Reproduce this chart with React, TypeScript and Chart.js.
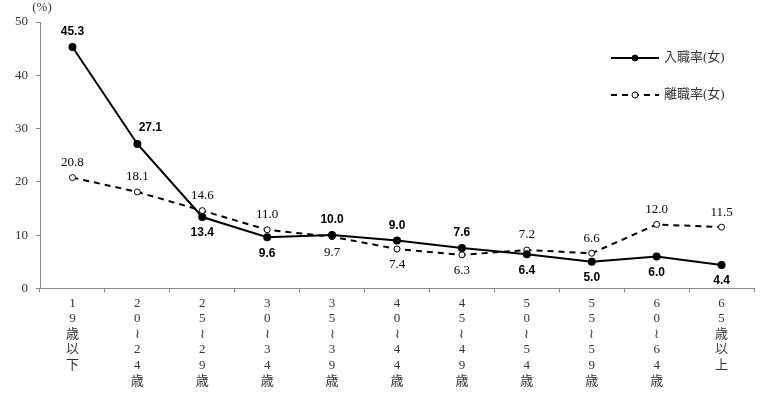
import React, { useEffect, useRef } from "react";
import { Chart, registerables } from "chart.js";

Chart.register(...registerables);

const categories: string[][] = [
  ["1", "9", "歳", "以", "下"],
  ["2", "0", "≀", "2", "4", "歳"],
  ["2", "5", "≀", "2", "9", "歳"],
  ["3", "0", "≀", "3", "4", "歳"],
  ["3", "5", "≀", "3", "9", "歳"],
  ["4", "0", "≀", "4", "4", "歳"],
  ["4", "5", "≀", "4", "9", "歳"],
  ["5", "0", "≀", "5", "4", "歳"],
  ["5", "5", "≀", "5", "9", "歳"],
  ["6", "0", "≀", "6", "4", "歳"],
  ["6", "5", "歳", "以", "上"],
];

const entryRate: number[] = [45.3, 27.1, 13.4, 9.6, 10.0, 9.0, 7.6, 6.4, 5.0, 6.0, 4.4];
const exitRate: number[] = [20.8, 18.1, 14.6, 11.0, 9.7, 7.4, 6.3, 7.2, 6.6, 12.0, 11.5];

const entryLabelSide: string[] = ["a", "r", "b", "b", "a", "a", "a", "b", "b", "b", "b"];
const exitLabelSide: string[] = ["a", "a", "a", "a", "b", "b", "b", "a", "a", "a", "a"];

const seriesNames: string[] = ["入職率(女)", "離職率(女)"];
const yTicks: number[] = [0, 10, 20, 30, 40, 50];
const unitLabel = "(%)";

const SERIF = "'Liberation Serif', 'DejaVu Serif', 'Noto Sans CJK JP', serif";
const LABEL_FONT = "'Liberation Serif', 'Noto Sans CJK JP', serif";

const overlayPlugin = {
  id: "overlay",
  afterDatasetsDraw(chart: any) {
    const ctx = chart.ctx;
    const sides = [entryLabelSide, exitLabelSide];
    chart.data.datasets.forEach((ds: any, di: number) => {
      const meta = chart.getDatasetMeta(di);
      ctx.save();
      ctx.fillStyle = "#000";
      ctx.textAlign = "center";
      ctx.textBaseline = "middle";
      ctx.font = di === 0 ? "bold 12px 'Liberation Sans', Arial, sans-serif" : `13px ${SERIF}`;
      meta.data.forEach((pt: any, i: number) => {
        const v = ds.data[i] as number;
        const side = sides[di][i];
        let x = pt.x;
        let y = pt.y;
        if (side === "a") y -= 15;
        else if (side === "b") y += 16;
        else {
          x += 13;
          y -= 16;
        }
        ctx.fillText(v.toFixed(1), x, y);
      });
      ctx.restore();
    });

    const ya = chart.scales.y;
    ctx.save();
    ctx.fillStyle = "#333";
    ctx.font = `13px ${SERIF}`;
    ctx.textAlign = "center";
    ctx.textBaseline = "middle";
    ctx.fillText(unitLabel, ya.right + 2, 8);
    ctx.restore();

    const lx = 611;
    const items = [
      { y: 58, dash: [] as number[], fill: "#000", r: 3 },
      { y: 95, dash: [6, 5], fill: "#fff", r: 3 },
    ];
    items.forEach((it, i) => {
      ctx.save();
      ctx.strokeStyle = "#000";
      ctx.lineWidth = 2;
      ctx.setLineDash(it.dash);
      ctx.beginPath();
      ctx.moveTo(lx, it.y);
      ctx.lineTo(lx + 48, it.y);
      ctx.stroke();
      ctx.setLineDash([]);
      ctx.lineWidth = 1;
      ctx.fillStyle = it.fill;
      ctx.beginPath();
      ctx.arc(lx + 24, it.y, it.r, 0, Math.PI * 2);
      ctx.fill();
      ctx.stroke();
      ctx.fillStyle = "#333";
      ctx.font = `13px ${LABEL_FONT}`;
      ctx.textAlign = "left";
      ctx.textBaseline = "middle";
      ctx.fillText(seriesNames[i], lx + 53, it.y);
      ctx.restore();
    });
  },
};

export default function App() {
  const ref = useRef<HTMLCanvasElement | null>(null);
  useEffect(() => {
    if (!ref.current) return;
    const chart = new Chart(ref.current, {
      type: "line",
      data: {
        labels: categories,
        datasets: [
          {
            label: seriesNames[0],
            data: entryRate,
            borderColor: "#000",
            backgroundColor: "#000",
            borderWidth: 2,
            pointRadius: 3,
            pointBackgroundColor: "#000",
            pointBorderColor: "#000",
            tension: 0,
          },
          {
            label: seriesNames[1],
            data: exitRate,
            borderColor: "#000",
            backgroundColor: "#fff",
            borderWidth: 2,
            borderDash: [6, 5],
            pointRadius: 3,
            pointBorderWidth: 1,
            pointBackgroundColor: "#fff",
            pointBorderColor: "#000",
            tension: 0,
          },
        ],
      },
      options: {
        animation: false,
        responsive: false,
        maintainAspectRatio: false,
        layout: { padding: { left: 7, right: 5, top: 22, bottom: 4 } },
        plugins: {
          legend: { display: false },
          tooltip: { enabled: false },
        },
        scales: {
          x: {
            offset: true,
            grid: {
              display: true,
              offset: true,
              drawOnChartArea: false,
              drawTicks: true,
              tickLength: 4,
              color: "#888",
            },
            border: { display: true, color: "#888", width: 1 },
            ticks: {
              autoSkip: false,
              maxRotation: 0,
              minRotation: 0,
              padding: 3,
              color: "#333",
              font: { family: LABEL_FONT, size: 13, lineHeight: 1.2 },
            },
          },
          y: {
            min: 0,
            max: 50,
            afterBuildTicks: (axis: any) => {
              axis.ticks = yTicks.map((v) => ({ value: v }));
            },
            grid: {
              display: true,
              drawOnChartArea: false,
              drawTicks: true,
              tickLength: 4,
              color: "#888",
            },
            border: { display: true, color: "#888", width: 1 },
            ticks: {
              padding: 8,
              color: "#333",
              font: { family: SERIF, size: 13 },
            },
          },
        },
      },
      plugins: [overlayPlugin],
    });
    return () => chart.destroy();
  }, []);
  return (
    <div style={{ position: "absolute", left: 0, top: 0, width: 760, height: 396, background: "#fff" }}>
      <canvas ref={ref} width={760} height={396} style={{ width: 760, height: 396 }} />
    </div>
  );
}
